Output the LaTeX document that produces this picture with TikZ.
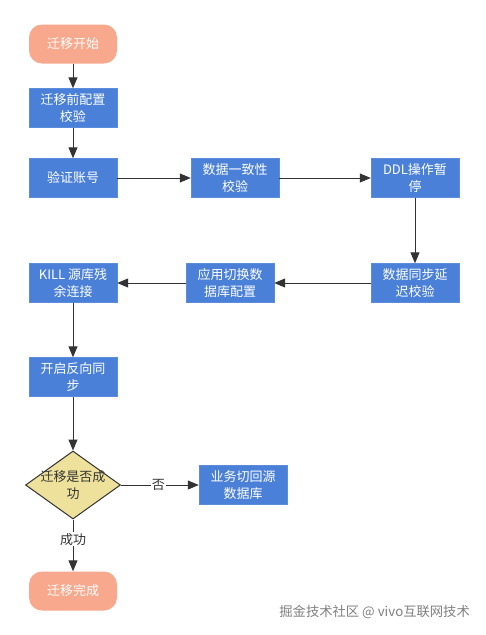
\documentclass[tikz,border=0pt]{standalone}
\usepackage{fontspec}
\setmainfont{Noto Sans CJK SC}
\usetikzlibrary{arrows.meta,shapes.geometric}
\definecolor{boxblue}{RGB}{74,128,216}
\definecolor{salmon}{RGB}{248,168,140}
\definecolor{khaki}{RGB}{237,225,155}
\definecolor{linec}{RGB}{51,51,51}
\tikzset{
  proc/.style={rectangle,fill=boxblue,draw=boxblue!90!white,minimum width=88pt,minimum height=39pt,inner sep=0pt,text=white,align=center,font=\fontsize{13}{17}\selectfont},
  term/.style={rectangle,rounded corners=13pt,fill=salmon,minimum width=88pt,minimum height=39pt,inner sep=0pt,text=white,align=center,font=\fontsize{13}{17}\selectfont},
  decide/.style={diamond,fill=khaki,draw=linec,line width=1pt,minimum width=95pt,minimum height=68pt,inner sep=0pt},
  dtext/.style={text=linec,align=center,inner sep=0pt,font=\fontsize{13}{17}\selectfont},
  arr/.style={draw=linec,line width=1pt,-{Triangle[length=11pt,width=9pt]}},
  lbl/.style={fill=white,text=linec,inner sep=1pt,font=\fontsize{13}{15}\selectfont}
}
\begin{document}
\begin{tikzpicture}[x=1pt,y=-1pt]
\useasboundingbox[fill=white] (0,0) rectangle (485,635);
\node[term] (start) at (73,44) {迁移开始};
\node[proc] (pre) at (73,108) {迁移前配置\\校验};
\node[proc] (acct) at (73,178) {验证账号};
\node[proc] (cons) at (235,178) {数据一致性\\校验};
\node[proc] (ddl) at (415,178) {DDL操作暂\\停};
\node[proc] (delay) at (415,283) {数据同步延\\迟校验};
\node[proc] (app) at (230,283) {应用切换数\\据库配置};
\node[proc] (kill) at (73,283) {KILL 源库残\\余连接};
\node[proc] (rev) at (73,377) {开启反向同\\步};
\node[decide] (ok) at (73,485) {};
\node[dtext] (oktxt) at (ok.center) {迁移是否成\\功};
\node[proc] (back) at (243,485) {业务切回源\\数据库};
\node[term] (done) at (73,591) {迁移完成};
\node[text=gray,font=\fontsize{13.3}{15}\selectfont,anchor=east,inner sep=0pt] (wm) at (470,612) {掘金技术社区 @ vivo互联网技术};

\draw[arr] (start) -- (pre);
\draw[arr] (pre) -- (acct);
\draw[arr] (acct) -- (cons);
\draw[arr] (cons) -- (ddl);
\draw[arr] (ddl) -- (delay);
\draw[arr] (delay) -- (app);
\draw[arr] (app) -- (kill);
\draw[arr] (kill) -- (rev);
\draw[arr] (rev) -- (ok);
\draw[arr] (ok) -- node[lbl,pos=0.48] (no) {否} (back);
\draw[arr] (ok) -- node[lbl,pos=0.38] (yes) {成功} (done);
\end{tikzpicture}
\end{document}
